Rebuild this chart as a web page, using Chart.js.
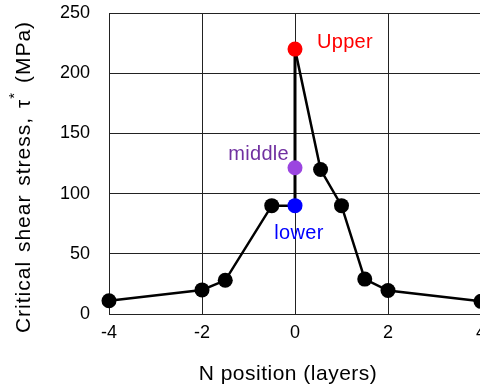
<!DOCTYPE html>
<html>
<head>
<meta charset="utf-8">
<script src="https://cdn.jsdelivr.net/npm/chart.js@4.4.0/dist/chart.umd.min.js"></script>
<style>
  html, body { margin: 0; padding: 0; background: #fff; overflow: hidden; }
  #wrap { width: 500px; height: 387px; }
</style>
</head>
<body>
<div id="wrap"><canvas id="chart" width="500" height="387"></canvas></div>
<script>
// N position (layers) and critical shear stress (MPa), in path order
const positions = [-4, -2, -1.5, -0.5, 0, 0, 0.55, 1, 1.5, 2, 4]
const stress    = [11, 20, 28, 90, 90, 220, 120, 90, 29, 19.5, 10.5]

// the three marked points at N = 0
const markNames  = ['Upper', 'middle', 'lower']
const markX      = [0, 0, 0]
const markY      = [220, 121.5, 90]
const markColors = ['#ff0000', '#9b45e0', '#0000ff']
const textColors = ['#ff0000', '#7030a0', '#0000ff']

const xTicks = [-4, -2, 0, 2, 4]
const yTicks = [0, 50, 100, 150, 200, 250]

const linePoints = positions.map((x, i) => ({ x: x, y: stress[i] }))

const FONT = '"Liberation Sans", Arial, sans-serif'

// axis titles and point labels
const textPlugin = {
  id: 'texts',
  afterDraw(chart) {
    const ctx = chart.ctx
    const xs = chart.scales.x, ys = chart.scales.y
    ctx.save()
    ctx.fillStyle = '#000'
    ctx.font = '21px ' + FONT
    ctx.letterSpacing = '0.5px'
    ctx.textAlign = 'center'
    ctx.textBaseline = 'middle'
    ctx.fillText('N position (layers)', 288, 374)

    // rotated y title with superscript star
    ctx.translate(24, 177)
    ctx.rotate(-Math.PI / 2)
    ctx.letterSpacing = '1px'
    ctx.wordSpacing = '2px'
    const a = 'Critical shear stress, \u03c4', b = '*', c = ' (MPa)'
    ctx.font = '21px ' + FONT
    const wa = ctx.measureText(a).width, wc = ctx.measureText(c).width
    ctx.font = '15px ' + FONT
    const wb = ctx.measureText(b).width
    let x0 = -(wa + wb + wc) / 2
    ctx.textAlign = 'left'
    ctx.font = '21px ' + FONT
    ctx.fillText(a, x0, 0)
    ctx.font = '15px ' + FONT
    ctx.fillText(b, x0 + wa, -9)
    ctx.font = '21px ' + FONT
    ctx.fillText(c, x0 + wa + wb, 0)
    ctx.restore()

    ctx.save()
    ctx.font = '20px ' + FONT
    ctx.letterSpacing = '0.3px'
    ctx.textBaseline = 'middle'
    markNames.forEach((name, i) => {
      const px = xs.getPixelForValue(markX[i]), py = ys.getPixelForValue(markY[i])
      ctx.fillStyle = textColors[i]
      if (i === 0) { ctx.textAlign = 'left'; ctx.fillText(name, px + 22, py - 7) }
      else if (i === 1) { ctx.textAlign = 'right'; ctx.fillText(name, px - 6, py - 13) }
      else { ctx.textAlign = 'center'; ctx.fillText(name, px + 4, py + 28) }
    })
    ctx.restore()
  }
}

const datasets = markNames.map((name, i) => ({
  label: name,
  data: [{ x: markX[i], y: markY[i] }],
  showLine: false,
  pointRadius: 7.5,
  pointBackgroundColor: markColors[i],
  pointBorderWidth: 0,
  order: 0,
  clip: false
}))
datasets.push({
  label: 'tau',
  data: linePoints,
  showLine: true,
  borderColor: '#000',
  borderWidth: 2.5,
  segment: { borderWidth: s => (s.p0.parsed.x === 0 && s.p1.parsed.x === 0) ? 3 : 2.5 },
  pointRadius: positions.map(x => x === 0 ? 0 : 7.5),
  pointBackgroundColor: '#000',
  pointBorderWidth: 0,
  order: 1,
  clip: false
})

new Chart(document.getElementById('chart'), {
  type: 'scatter',
  data: { datasets: datasets },
  plugins: [textPlugin],
  options: {
    responsive: false,
    animation: false,
    devicePixelRatio: 1,
    layout: { padding: { top: 13, right: 19, left: 0, bottom: 0 } },
    plugins: { legend: { display: false }, tooltip: { enabled: false } },
    scales: {
      x: {
        type: 'linear', min: -4, max: 4,
        afterFit: s => { s.height = 73; s.paddingLeft = 0; s.paddingRight = 0 },
        afterBuildTicks: s => { s.ticks = xTicks.map(v => ({ value: v })) },
        grid: { color: '#222', lineWidth: 1, drawTicks: false },
        border: { color: '#222', width: 1 },
        ticks: { color: '#000', font: { size: 18, family: FONT }, padding: 8, maxRotation: 0 }
      },
      y: {
        type: 'linear', min: 0, max: 250,
        afterFit: s => { s.width = 109; s.paddingTop = 0; s.paddingBottom = 0 },
        afterBuildTicks: s => { s.ticks = yTicks.map(v => ({ value: v })) },
        grid: { color: '#222', lineWidth: 1, drawTicks: false },
        border: { color: '#222', width: 1 },
        ticks: { color: '#000', font: { size: 18, family: FONT }, padding: 19 }
      }
    }
  }
})
</script>
</body>
</html>
